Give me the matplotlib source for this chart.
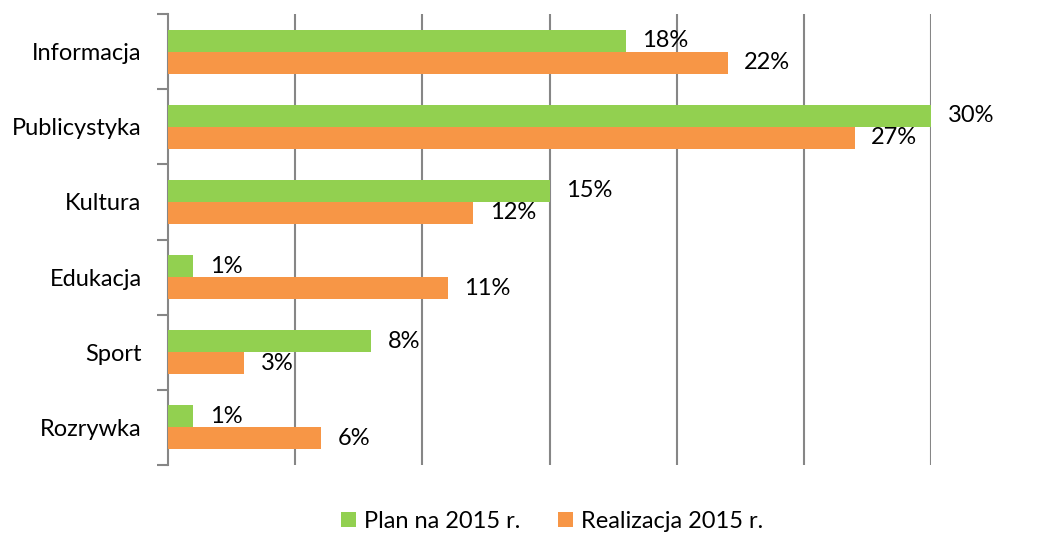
import matplotlib.pyplot as plt
import numpy as np

categories = ["Informacja", "Publicystyka", "Kultura", "Edukacja", "Sport", "Rozrywka"]
plan = [18, 30, 15, 1, 8, 1]
realizacja = [22, 27, 12, 11, 3, 6]
series_names = ["Plan na 2015 r.", "Realizacja 2015 r."]

green = "#92D050"
orange = "#F79646"
grid_col = "#868686"

plt.rcParams["font.family"] = ["Lato", "DejaVu Sans"]
fs = 17

fig = plt.figure(figsize=(10.51, 5.34), dpi=100)
ax = fig.add_axes([168 / 1051, 1 - 465 / 534, (931 - 168) / 1051, (465 - 14) / 534])

y = np.arange(len(categories))
h = 0.293

b1 = ax.barh(y - h / 2, plan, height=h, color=green, label=series_names[0], zorder=3)
b2 = ax.barh(y + h / 2, realizacja, height=h, color=orange, label=series_names[1], zorder=3)

for bars, vals in ((b1, plan), (b2, realizacja)):
    for bar, v in zip(bars, vals):
        ax.annotate(f"{v}%", (bar.get_width(), bar.get_y() + bar.get_height() / 2),
                    xytext=(12, 0), textcoords="offset points",
                    ha="left", va="center", fontsize=fs)

ax.set_xlim(0, 30)
ax.set_ylim(len(categories) - 0.5, -0.5)
ax.set_xticks(np.arange(5, 31, 5))
ax.tick_params(axis="x", length=0, labelbottom=False)
ax.grid(axis="x", color=grid_col, linewidth=1.5, zorder=0)

ax.set_yticks(y)
ax.set_yticklabels(categories, fontsize=fs)
ax.tick_params(axis="y", which="major", length=0, pad=19)
ax.set_yticks(np.arange(-0.5, len(categories)), minor=True)
ax.tick_params(axis="y", which="minor", length=8, width=1.5, color=grid_col, direction="out")

for s in ("top", "right", "bottom"):
    ax.spines[s].set_visible(False)
ax.spines["left"].set_color(grid_col)
ax.spines["left"].set_linewidth(1.5)

fig.legend(handles=[b1, b2], labels=series_names, loc="center",
           bbox_to_anchor=(552 / 1051, 1 - 521 / 534),
           ncol=2, frameon=False, fontsize=fs, handlelength=0.62, handleheight=0.62,
           handletextpad=0.35, columnspacing=1.6)

fig.savefig("out.png", dpi=100)
